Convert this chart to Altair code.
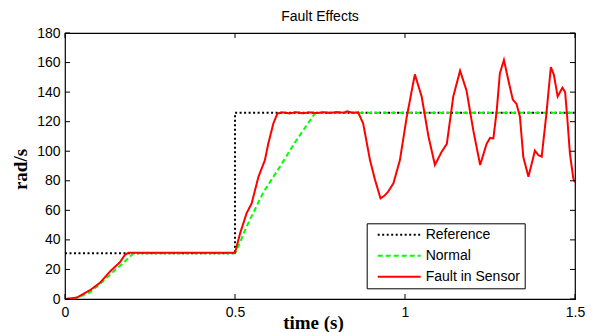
import altair as alt
import pandas as pd

series = ["Reference", "Normal", "Fault in Sensor"]
colors = ["#000000", "#00ff00", "#ff0000"]
dashes = [[2, 2.5], [5, 3], [1, 0]]

ref_t = [0, 0.5, 0.5, 1.5]
ref_v = [31, 31, 126, 126]

norm_t = [0, 0.03, 0.07, 0.10, 0.142, 0.17, 0.196, 0.2, 0.5, 0.505, 0.534,
          0.583, 0.632, 0.681, 0.735, 0.745, 1.5]
norm_v = [0, 0.5, 4, 9.5, 18.5, 24, 29.8, 31, 31, 33, 49,
          72, 89.5, 107.6, 125.6, 126, 126]

fault_t = [0, 0.034, 0.074, 0.103, 0.132, 0.162, 0.176, 0.186, 0.5, 0.515,
           0.534, 0.549, 0.569, 0.588, 0.598, 0.613, 0.625, 0.64, 0.66, 0.68,
           0.70, 0.72, 0.74, 0.76, 0.78, 0.80, 0.82, 0.83, 0.845, 0.862,
           0.877, 0.897, 0.912, 0.928, 0.94, 0.95, 0.966, 0.985, 1.005,
           1.029, 1.049, 1.069, 1.088, 1.108, 1.123, 1.142, 1.162, 1.181,
           1.201, 1.221, 1.240, 1.25, 1.26, 1.27, 1.279, 1.291, 1.304, 1.317,
           1.328, 1.338, 1.348, 1.363, 1.373, 1.382, 1.392, 1.402, 1.415,
           1.429, 1.438, 1.449, 1.463, 1.471, 1.477, 1.485, 1.495, 1.5]
fault_v = [0, 0.9, 6, 11, 18.5, 25, 29.8, 31.3, 31.3, 44.4,
           58, 64.7, 82.7, 94, 105.3, 118.9, 125.6, 126.3, 125.6, 126.4,
           125.7, 126.3, 125.8, 126.4, 125.9, 126.5, 126.0, 127, 126, 126.3,
           118.8, 94, 80.5, 68.1, 70, 72.5, 78.3, 94, 123,
           152, 137, 110, 90.7, 99.7, 105, 137, 154.5, 141,
           114, 90.7, 105, 109, 108.7, 128, 152.7, 161.7, 148, 135,
           132, 123.4, 96, 82.8, 91.8, 100.4, 97.4, 96.3, 123.4,
           157, 151.6, 137, 143, 140, 123.4, 98.6, 81.6, 79]

x_ticks = [0, 0.5, 1, 1.5]
y_ticks = [0, 20, 40, 60, 80, 100, 120, 140, 160, 180]

W, H = 510, 266

rows = []
for name, ts, vs in [(series[0], ref_t, ref_v), (series[1], norm_t, norm_v),
                     (series[2], fault_t, fault_v)]:
    for i, (t, v) in enumerate(zip(ts, vs)):
        rows.append({"series": name, "t": t, "v": v, "i": i})
df = pd.DataFrame(rows)

xscale = alt.Scale(domain=[0, 1.5], nice=False, zero=False)
yscale = alt.Scale(domain=[0, 180], nice=False)

x_axis = alt.Axis(
    values=x_ticks, format="~g", title="time (s)", labelPadding=6,
    labelFlush=False, labelOverlap=False,
    titleFont="Liberation Serif", titleFontWeight="bold", titleFontSize=19,
    titleX=248, titleY=29, titleAlign="center", titleBaseline="alphabetic",
    titleColor="black")
y_axis = alt.Axis(
    values=y_ticks, title="rad/s", labelPadding=5,
    labelFlush=False, labelOverlap=False,
    titleFont="Liberation Serif", titleFontWeight="bold", titleFontSize=19,
    titleAngle=270, titleX=-39, titleY=136, titleAlign="center",
    titleBaseline="alphabetic", titleColor="black")

leg = alt.Legend(
    title=None, orient="none", legendX=301.7, legendY=190.3,
    symbolType="M-4.3,0H4.3", symbolSize=100, symbolStrokeWidth=2,
    symbolOffset=21, labelOffset=19.5, labelFontSize=14,
    labelFont="Liberation Sans", labelColor="black", padding=4.5,
    rowPadding=7, strokeColor="black", fillColor="white",
)

lines = alt.Chart(df).mark_line(strokeWidth=2, clip=True).encode(
    x=alt.X("t:Q", scale=xscale, axis=x_axis),
    y=alt.Y("v:Q", scale=yscale, axis=y_axis),
    color=alt.Color("series:N", scale=alt.Scale(domain=series, range=colors),
                    legend=leg),
    strokeDash=alt.StrokeDash("series:N",
                              scale=alt.Scale(domain=series, range=dashes),
                              legend=leg),
    order="i:Q",
)

xt = pd.DataFrame({"t": x_ticks})
yt = pd.DataFrame({"v": y_ticks})

tick_bottom = alt.Chart(xt).mark_rule(color="black", strokeWidth=1).encode(
    x=alt.X("t:Q", scale=xscale, axis=x_axis), y=alt.value(H), y2=alt.value(H - 5))
tick_top = alt.Chart(xt).mark_rule(color="black", strokeWidth=1).encode(
    x=alt.X("t:Q", scale=xscale, axis=x_axis), y=alt.value(0), y2=alt.value(5))
tick_left = alt.Chart(yt).mark_rule(color="black", strokeWidth=1).encode(
    y=alt.Y("v:Q", scale=yscale, axis=y_axis), x=alt.value(0), x2=alt.value(5))
tick_right = alt.Chart(yt).mark_rule(color="black", strokeWidth=1).encode(
    y=alt.Y("v:Q", scale=yscale, axis=y_axis), x=alt.value(W), x2=alt.value(W - 5))

chart = alt.layer(lines, tick_bottom, tick_top, tick_left, tick_right).properties(
    width=W, height=H,
    title=alt.TitleParams("Fault Effects", anchor="middle", dy=2),
    autosize=alt.AutoSizeParams(type="none"),
    padding={"left": 65, "top": 33, "right": 22, "bottom": 33},
    background="white",
).configure_view(
    stroke="black", strokeWidth=1.2
).configure_axis(
    labelFont="Liberation Sans", labelFontSize=14, labelColor="black",
    ticks=False, domain=False, grid=False,
).configure_title(
    font="Liberation Sans", fontSize=14, fontWeight="normal", color="black",
    offset=0, baseline="alphabetic",
)

chart.save("out.html", embed_options={"renderer": "svg", "actions": False})
